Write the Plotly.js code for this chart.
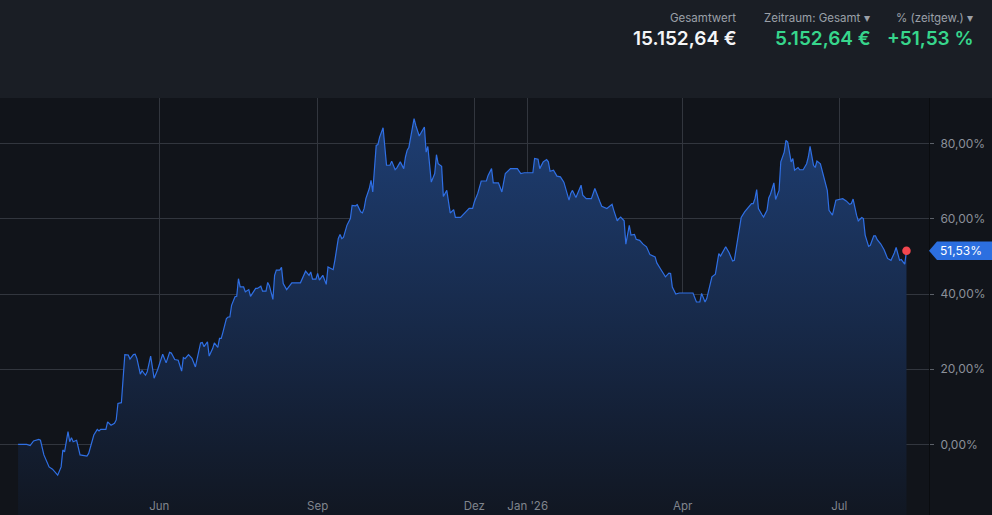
<!DOCTYPE html>
<html>
<head>
<meta charset="utf-8">
<script src="https://cdn.plot.ly/plotly-3.0.1.min.js"></script>
<style>
  html, body { margin: 0; padding: 0; background: #11141a; }
  #chart { width: 992px; height: 515px; }
</style>
</head>
<body>
<div id="chart"></div>
<script>
// ---- data ----
const dates = [
"2025-03-11","2025-03-16","2025-03-18","2025-03-20","2025-03-23","2025-03-24","2025-03-26","2025-03-29","2025-03-31",
"2025-04-03","2025-04-05","2025-04-06","2025-04-07","2025-04-09","2025-04-10","2025-04-11","2025-04-12","2025-04-14",
"2025-04-16","2025-04-20","2025-04-21","2025-04-24","2025-04-26","2025-04-27","2025-04-28",
"2025-05-01","2025-05-02","2025-05-04","2025-05-06","2025-05-07","2025-05-08","2025-05-10","2025-05-11","2025-05-12",
"2025-05-14","2025-05-15","2025-05-17","2025-05-18","2025-05-19","2025-05-21","2025-05-22","2025-05-24","2025-05-25",
"2025-05-27","2025-05-29","2025-05-31",
"2025-06-03","2025-06-05","2025-06-07","2025-06-08","2025-06-10","2025-06-12","2025-06-14","2025-06-15","2025-06-16",
"2025-06-18","2025-06-20","2025-06-22","2025-06-25","2025-06-26","2025-06-27","2025-06-29","2025-06-30",
"2025-07-02","2025-07-03","2025-07-05","2025-07-06","2025-07-07","2025-07-08","2025-07-10","2025-07-11","2025-07-12",
"2025-07-13","2025-07-15","2025-07-16","2025-07-17","2025-07-18","2025-07-20","2025-07-21","2025-07-23","2025-07-24",
"2025-07-25","2025-07-27","2025-07-28","2025-07-30","2025-07-31",
"2025-08-02","2025-08-03","2025-08-04","2025-08-06","2025-08-07","2025-08-08","2025-08-10","2025-08-11","2025-08-12",
"2025-08-14","2025-08-15","2025-08-17","2025-08-22","2025-08-25","2025-08-27","2025-08-28","2025-08-29","2025-08-31",
"2025-09-01","2025-09-02","2025-09-04","2025-09-06","2025-09-07","2025-09-08","2025-09-10","2025-09-11","2025-09-13",
"2025-09-14","2025-09-15","2025-09-16","2025-09-18","2025-09-20","2025-09-21","2025-09-23","2025-09-24","2025-09-26",
"2025-09-27","2025-09-28","2025-09-29",
"2025-10-01","2025-10-02","2025-10-03","2025-10-05","2025-10-06","2025-10-07","2025-10-09","2025-10-11","2025-10-13",
"2025-10-14","2025-10-16","2025-10-17","2025-10-19","2025-10-20","2025-10-21","2025-10-22","2025-10-23","2025-10-24",
"2025-10-26","2025-10-27","2025-10-28","2025-10-30","2025-10-31",
"2025-11-02","2025-11-03","2025-11-04","2025-11-06","2025-11-08","2025-11-09","2025-11-10","2025-11-12","2025-11-13",
"2025-11-15","2025-11-16","2025-11-17","2025-11-19","2025-11-20","2025-11-23","2025-11-26","2025-11-28","2025-11-30",
"2025-12-01","2025-12-03","2025-12-05","2025-12-08","2025-12-09","2025-12-11","2025-12-12","2025-12-15","2025-12-17",
"2025-12-19","2025-12-22","2025-12-26","2025-12-28","2025-12-30",
"2026-01-04","2026-01-05","2026-01-07","2026-01-08","2026-01-10","2026-01-12","2026-01-13","2026-01-14","2026-01-16",
"2026-01-18","2026-01-20","2026-01-22","2026-01-25","2026-01-26","2026-01-27","2026-01-29","2026-01-30",
"2026-02-01","2026-02-02","2026-02-04","2026-02-07","2026-02-09","2026-02-12","2026-02-13","2026-02-16","2026-02-17",
"2026-02-19","2026-02-20","2026-02-22","2026-02-23","2026-02-24","2026-02-26","2026-02-27",
"2026-03-01","2026-03-02","2026-03-04","2026-03-05","2026-03-07","2026-03-09","2026-03-11","2026-03-13","2026-03-16",
"2026-03-17","2026-03-19","2026-03-22","2026-03-24","2026-03-25","2026-03-26","2026-03-28","2026-03-30",
"2026-04-07","2026-04-09","2026-04-11","2026-04-12","2026-04-14","2026-04-15","2026-04-17","2026-04-18","2026-04-20",
"2026-04-22","2026-04-23","2026-04-26","2026-04-28","2026-04-30",
"2026-05-01","2026-05-03","2026-05-04","2026-05-05","2026-05-07","2026-05-09","2026-05-11","2026-05-12","2026-05-13",
"2026-05-14","2026-05-15","2026-05-17","2026-05-18","2026-05-20","2026-05-21","2026-05-22","2026-05-24","2026-05-25",
"2026-05-27","2026-05-28","2026-05-30","2026-05-31",
"2026-06-01","2026-06-03","2026-06-04","2026-06-05","2026-06-07","2026-06-08","2026-06-10","2026-06-12","2026-06-13",
"2026-06-14","2026-06-16","2026-06-17","2026-06-18","2026-06-20","2026-06-22","2026-06-24","2026-06-25","2026-06-27",
"2026-06-29",
"2026-07-01","2026-07-03","2026-07-05","2026-07-07","2026-07-08","2026-07-09","2026-07-11","2026-07-12","2026-07-14",
"2026-07-15","2026-07-16","2026-07-18","2026-07-19","2026-07-21","2026-07-22","2026-07-23","2026-07-25","2026-07-27",
"2026-07-29","2026-07-31",
"2026-08-02","2026-08-03","2026-08-05","2026-08-06","2026-08-07","2026-08-08","2026-08-09"
];
const performance = [
0.0,0.0,-0.3,0.9,1.3,1.1,-2.8,-6.0,-6.6,
-8.2,-6.0,-1.5,-2.0,3.4,0.7,1.8,0.7,1.1,
-2.8,-3.1,-2.4,2.5,4.0,3.6,4.0,
4.0,6.0,5.1,5.6,6.5,10.9,11.1,17.5,23.9,
23.8,22.7,23.9,24.0,22.9,18.7,19.6,18.4,19.3,
23.5,17.6,19.8,
24.0,21.7,24.5,24.3,22.6,22.4,19.5,23.1,22.8,
23.9,22.9,20.6,27.0,27.1,26.0,27.3,23.5,
25.5,27.0,25.8,28.2,28.2,29.9,33.5,33.9,33.9,
37.0,39.3,39.4,44.1,41.9,41.9,40.6,41.2,39.4,
40.2,41.5,41.5,42.1,40.8,
40.8,43.1,42.2,38.6,45.0,46.4,46.4,47.1,42.8,
41.2,41.9,43.0,43.0,46.1,45.0,45.9,44.0,44.0,
45.5,43.7,45.0,42.6,47.2,47.0,46.5,49.0,54.8,
55.9,54.8,55.1,58.3,60.1,63.6,63.5,63.8,61.9,
61.6,62.8,65.4,
68.1,70.3,67.2,79.6,79.8,81.8,84.3,74.3,74.3,
75.4,73.1,73.6,75.2,74.3,73.4,76.5,78.3,79.1,
84.0,86.7,84.9,82.1,82.9,
84.5,77.8,79.3,69.8,72.1,77.1,74.7,74.0,66.0,
67.6,64.5,61.6,62.5,60.4,60.4,61.9,62.8,62.8,
64.5,66.8,70.1,70.1,71.6,73.4,69.6,69.6,67.2,
72.1,73.4,73.4,72.1,72.3,
72.3,76.1,75.9,73.4,75.2,75.8,75.2,72.7,73.0,
71.4,71.2,69.8,65.0,66.8,67.6,65.7,66.8,
69.0,66.3,65.4,65.4,68.1,64.5,63.4,62.8,63.2,
63.9,62.3,59.5,60.1,60.5,59.5,53.3,
58.3,55.7,55.9,54.6,54.3,53.3,52.6,50.5,49.9,
48.3,46.8,44.6,45.6,45.5,41.9,40.0,40.3,
40.3,37.9,37.9,40.2,37.9,38.8,42.4,44.6,45.3,
50.8,50.1,52.6,51.0,48.8,
49.0,54.5,56.5,60.4,61.9,63.0,64.1,64.1,65.4,
67.8,62.8,61.2,60.5,62.3,65.6,66.6,69.6,65.2,
67.6,75.2,77.8,80.9,
80.5,75.2,76.1,73.0,73.7,73.1,73.1,74.7,76.5,
79.3,74.3,73.7,75.4,74.7,71.2,67.6,62.3,61.0,
65.0,
65.2,65.4,64.8,63.9,64.1,65.3,61.0,59.5,60.4,
60.1,55.7,52.7,53.0,55.5,55.5,54.5,53.4,51.8,
49.5,49.0,
51.0,52.4,49.0,49.2,48.6,48.0,51.53
];
const tickDates = ["2025-06-01","2025-09-01","2025-12-01","2026-01-01","2026-04-01","2026-07-01"];
const tickLabels = ["Jun","Sep","Dez","Jan '26","Apr","Jul"];
const yTicks = [0, 20, 40, 60, 80];
const yTickLabels = ["0,00%", "20,00%", "40,00%", "60,00%", "80,00%"];

const headerLabels = ["Gesamtwert", "Zeitraum: Gesamt \u25BE", "% (zeitgew.) \u25BE"];
const headerValues = ["15.152,64 €", "5.152,64 €", "+51,53 %"];
const currentLabel = "51,53%";

// ---- layout constants ----
const W = 992, H = 515, TOP = 98, RIGHT = 63;
const plotW = W - RIGHT, plotH = H - TOP;
const yRange = [-18.8, 92.2];
const xRange = ["2025-02-28 12:00", "2026-08-22 02:00"];
const lastDate = dates[dates.length - 1];
const lastVal = performance[performance.length - 1];
const px2paperX = px => px / plotW;
const px2paperY = py => (H - py) / plotH;
const pxPerUnit = plotH / (yRange[1] - yRange[0]);
const FONT = 'Inter, "Noto Sans", sans-serif';

const baseline = {
  x: [dates[0], lastDate],
  y: [yRange[0], yRange[0]],
  type: 'scatter', mode: 'lines',
  line: { width: 0, color: 'rgba(0,0,0,0)' },
  hoverinfo: 'skip', showlegend: false
};
const main = {
  x: dates, y: performance,
  type: 'scatter', mode: 'lines',
  line: { color: '#2f6fe4', width: 1.2, shape: 'linear' },
  fill: 'tonexty',
  fillgradient: {
    type: 'vertical', start: yRange[0], stop: 87,
    colorscale: [[0, '#111722'], [0.25, '#142036'], [1, '#1e3e73']]
  },
  hoverinfo: 'skip', showlegend: false
};
const dot = {
  x: [lastDate], y: [lastVal],
  type: 'scatter', mode: 'markers',
  marker: { color: '#f2474f', size: 8.5 },
  hoverinfo: 'skip', showlegend: false
};

const labelFont = { family: FONT, size: 11.5, color: '#9ba0a8' };
const headerX = [737, 871, 974];
const valueColors = ['#f4f5f7', '#37d68c', '#37d68c'];
const annotations = [];
headerLabels.forEach((t, i) => {
  annotations.push({
    xref: 'paper', yref: 'paper', x: px2paperX(headerX[i] + 1), y: px2paperY(18),
    xanchor: 'right', yanchor: 'middle', showarrow: false, text: t, font: labelFont
  });
  annotations.push({
    xref: 'paper', yref: 'paper', x: px2paperX(headerX[i] + 2), y: px2paperY(38),
    xanchor: 'right', yanchor: 'middle', showarrow: false, text: headerValues[i],
    font: { family: FONT, size: 19, color: valueColors[i], weight: 600 }
  });
});
annotations.push({
  xref: 'paper', yref: 'y', x: px2paperX(961), y: lastVal,
  xanchor: 'center', yanchor: 'middle', showarrow: false, text: currentLabel,
  font: { family: FONT, size: 12, color: '#ffffff' }
});

const half = 9.2 / pxPerUnit;
const tipX = px2paperX(929), bodyX = px2paperX(937), endX = px2paperX(W + 2);
const tagPath = `M ${tipX},${lastVal} L ${bodyX},${lastVal + half} L ${endX},${lastVal + half} L ${endX},${lastVal - half} L ${bodyX},${lastVal - half} Z`;

const shapes = [
  { type: 'rect', xref: 'paper', yref: 'paper', x0: -0.01, x1: px2paperX(W + 2), y0: 1, y1: px2paperY(-2),
    fillcolor: '#1a1e25', line: { width: 0 }, layer: 'below' },
  { type: 'path', xref: 'paper', yref: 'y', path: tagPath, fillcolor: '#2c6fe0', line: { width: 0 } }
];

const layout = {
  width: W, height: H,
  margin: { l: 0, r: RIGHT, t: TOP, b: 0, pad: 0 },
  paper_bgcolor: '#11141a', plot_bgcolor: '#11141a',
  font: { family: FONT, color: '#8b9099', size: 11 },
  xaxis: {
    type: 'date', range: xRange,
    tickmode: 'array', tickvals: tickDates, ticktext: tickLabels,
    ticklabelposition: 'inside', ticks: '',
    showgrid: true, gridcolor: '#32363e', gridwidth: 1,
    zeroline: false, showline: false,
    tickfont: { family: FONT, size: 11.5, color: '#80858d' },
    fixedrange: true
  },
  yaxis: {
    side: 'right', range: yRange,
    tickmode: 'array', tickvals: yTicks, ticktext: yTickLabels,
    ticks: 'outside', ticklen: 4, tickcolor: '#5c6169', tickwidth: 1,
    ticklabelstandoff: 4,
    showgrid: true, gridcolor: '#32363e', gridwidth: 1,
    zeroline: false,
    showline: true, linecolor: '#0a0c0f', linewidth: 1,
    tickfont: { family: FONT, size: 12, color: '#8b9099' },
    fixedrange: true
  },
  annotations: annotations,
  shapes: shapes,
  showlegend: false
};

Plotly.newPlot('chart', [baseline, main, dot], layout, { displayModeBar: false, staticPlot: true });
</script>
</body>
</html>
